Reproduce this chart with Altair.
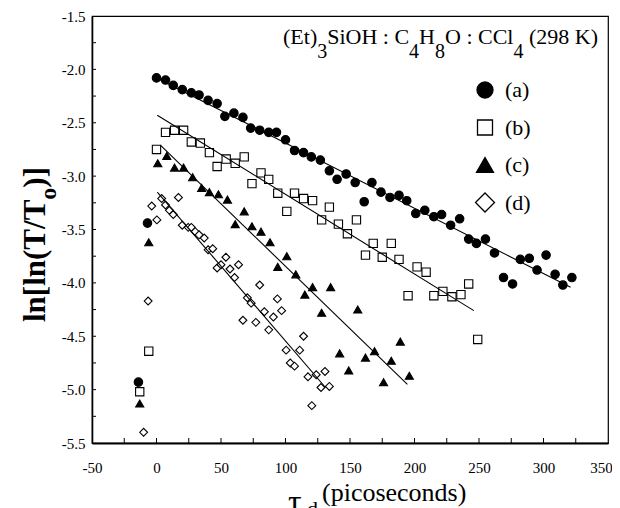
import altair as alt
import pandas as pd

# ---------------- data ----------------
a_x = [-14, -7, 0, 7, 13, 20, 27, 33, 40, 47, 53, 60, 67, 73, 80, 87, 93, 100, 107, 114,
       120, 127, 134, 140, 147, 154, 161, 167, 174, 181, 188, 194, 201, 208, 215, 221, 228,
       235, 242, 248, 255, 262, 269, 276, 282, 289, 295, 302, 309, 315, 322]
a_y = [-4.93, -3.44, -2.08, -2.10, -2.15, -2.19, -2.22, -2.24, -2.29, -2.32, -2.44, -2.41,
       -2.45, -2.55, -2.57, -2.59, -2.59, -2.66, -2.76, -2.78, -2.82, -2.85, -2.95, -3.03,
       -2.98, -3.06, -3.24, -3.06, -3.15, -3.20, -3.18, -3.23, -3.35, -3.32, -3.38, -3.36,
       -3.46, -3.40, -3.59, -3.63, -3.59, -3.72, -3.95, -4.01, -3.78, -3.77, -3.88, -3.74,
       -3.92, -4.02, -3.95]

b_x = [-13, -6, 0, 7, 14, 21, 27, 34, 41, 47, 54, 61, 68, 74, 81, 87, 94, 101, 107, 114,
       121, 128, 134, 141, 148, 155, 162, 168, 175, 182, 188, 195, 202, 209, 215, 222, 229,
       236, 242, 249]
b_y = [-5.02, -4.64, -2.75, -2.59, -2.57, -2.57, -2.68, -2.69, -2.78, -2.91, -2.84, -2.88,
       -2.82, -3.07, -2.97, -3.03, -3.16, -3.33, -3.16, -3.21, -3.23, -3.41, -3.29, -3.45,
       -3.54, -3.41, -3.74, -3.63, -3.76, -3.63, -3.78, -4.12, -3.85, -3.90, -4.12, -4.08,
       -4.13, -4.11, -4.01, -4.53]

c_x = [-13, -6, 1, 8, 14, 21, 28, 35, 41, 48, 55, 61, 68, 74, 81, 88, 94, 101, 108, 115,
       121, 128, 135, 142, 149, 156, 162, 169, 176, 182, 189, 196]
c_y = [-5.13, -3.62, -2.88, -2.81, -2.92, -2.92, -3.01, -3.11, -3.15, -3.17, -3.22, -3.45,
       -3.33, -3.47, -3.52, -3.62, -3.85, -3.75, -3.92, -4.11, -4.04, -4.28, -4.04, -4.66,
       -4.82, -4.25, -4.70, -4.64, -4.93, -4.73, -4.55, -4.87]

d_x = [-10, -6.5, -3.7, 0.3, 4, 7, 10, 13, 17, 20, 24.6, 27, 30, 33, 37, 40, 43.6, 47, 50,
       53.8, 57, 60.5, 63.6, 67, 70.4, 73.4, 77, 80, 83.6, 87, 90.6, 93.7, 97, 100.5, 103.7,
       107, 111, 114, 117.4, 120.4, 123.8, 127.5, 130.6, 134]
d_y = [-5.40, -4.17, -3.28, -3.41, -3.21, -3.27, -3.32, -3.36, -3.20, -3.46, -3.48, -3.48,
       -3.52, -3.55, -3.58, -3.69, -3.68, -3.86, -3.83, -3.76, -3.87, -3.95, -3.83, -4.35,
       -4.14, -4.19, -4.37, -4.02, -4.27, -4.44, -4.32, -4.15, -4.26, -4.63, -4.75, -4.78,
       -4.63, -4.50, -4.88, -5.15, -4.86, -4.98, -4.83, -4.97]

series = ["(a)", "(b)", "(c)", "(d)"]
shapes = ["circle", "square", "triangle-up", "diamond"]
fills = ["black", "white", "black", "white"]

fit_x0 = [0, 0.6, 3, 0.6]
fit_y0 = [-2.08, -2.43, -2.71, -3.15]
fit_x1 = [321, 246, 194.5, 131]
fit_y1 = [-4.04, -4.26, -4.95, -4.98]

x_labels = [-50, 0, 50, 100, 150, 200, 250, 300, 350]
y_labels = [-5.5, -5.0, -4.5, -4.0, -3.5, -3.0, -2.5, -2.0, -1.5]
x_minor = [-25, 0, 25, 50, 75, 100, 125, 150, 175, 200, 225, 250, 275, 300, 325]
y_minor = [-5.25, -5.0, -4.75, -4.5, -4.25, -4.0, -3.75, -3.5, -3.25, -3.0, -2.75,
           -2.5, -2.25, -2.0, -1.75]

# ---------------- tables ----------------
rows = []
for s, xs_, ys_ in zip(series, [a_x, b_x, c_x, d_x], [a_y, b_y, c_y, d_y]):
    for xv, yv in zip(xs_, ys_):
        rows.append({"x": xv, "y": yv, "s": s})
pts = pd.DataFrame(rows)

fit_rows = []
for s, x0, y0, x1, y1 in zip(series, fit_x0, fit_y0, fit_x1, fit_y1):
    fit_rows.append({"x": x0, "y": y0, "s": s})
    fit_rows.append({"x": x1, "y": y1, "s": s})
fits = pd.DataFrame(fit_rows)

W, H = 516, 427
SERIF = "Liberation Serif"

xsc = alt.Scale(domain=[-50, 350], nice=False, zero=False)
ysc = alt.Scale(domain=[-5.5, -1.5], nice=False, zero=False)

xaxis = alt.Axis(values=x_labels, title=None, grid=False, ticks=False, labelFont=SERIF,
                 labelFontSize=15, labelColor="black", labelPadding=17, domainColor="black",
                 domainWidth=2, labelFlush=False, labelOverlap=False, format="d",
                 labelOffset={"condition": {"test": "datum.value == 350", "value": -7},
                              "value": 0})
yaxis = alt.Axis(values=y_labels, title=None, grid=False, ticks=False, labelFont=SERIF,
                 labelFontSize=15, labelColor="black", labelPadding=7, domainColor="black",
                 domainWidth=1.6, format=".1f", labelFlush=False, labelOverlap=False)

X = alt.X("x:Q", scale=xsc, axis=xaxis)
Y = alt.Y("y:Q", scale=ysc, axis=yaxis)

points = alt.Chart(pts).mark_point(filled=True, stroke="black", strokeWidth=1.1, opacity=1).encode(
    x=X, y=Y,
    shape=alt.Shape("s:N", scale=alt.Scale(domain=series, range=shapes), legend=None),
    fill=alt.Fill("s:N", scale=alt.Scale(domain=series, range=fills), legend=None),
    size=alt.Size("s:N", scale=alt.Scale(domain=series, range=[72, 62, 85, 44]), legend=None),
)

lines = alt.Chart(fits).mark_line(color="black", strokeWidth=1.1).encode(
    x=X, y=Y, detail="s:N")

xt = alt.Chart(pd.DataFrame({"x": x_minor})).mark_rule(color="black", strokeWidth=1).encode(
    x=X, y=alt.value(H), y2=alt.value(H - 5))
yt = alt.Chart(pd.DataFrame({"y": y_minor})).mark_rule(color="black", strokeWidth=1).encode(
    y=Y, x=alt.value(0), x2=alt.value(4))

# ---------------- legend (drawn in the plot, top right) ----------------
legend_sizes = [256, 225, 289, 361]
legend_layers = []
for i, (lab, shp, fil, sz) in enumerate(zip(series, shapes, fills, legend_sizes)):
    cy = 74 + i * 37.5
    legend_layers.append(
        alt.Chart(pd.DataFrame({"t": [lab]})).mark_point(
            shape=shp, size=sz, filled=True, fill=fil, stroke="black", strokeWidth=1.3,
            opacity=1).encode(x=alt.value(393), y=alt.value(cy)))
    legend_layers.append(
        alt.Chart(pd.DataFrame({"t": [lab]})).mark_text(
            align="left", baseline="alphabetic", font=SERIF, fontSize=22, color="black").encode(
            x=alt.value(413), y=alt.value(cy + 7), text="t:N"))

# ---------------- text (title with subscripts) ----------------
TW = {'(': 333, ')': 333, 'E': 611, 't': 278, 'S': 556, 'i': 278, 'O': 722, 'H': 722,
      ' ': 250, ':': 278, 'C': 667, 'l': 278, '2': 500, '9': 500, '8': 500, 'K': 722,
      '3': 500, '4': 500}
TWB = {'l': 278, 'n': 556, '[': 333, '(': 333, 'T': 667, '/': 278, 'o': 500, ')': 333,
       ']': 333}


def width(s, size, table):
    return sum(table[ch] for ch in s) * size / 1000.0


def text_layer(txt, px, py, size, weight="normal", angle=0):
    return alt.Chart(pd.DataFrame({"t": [txt]})).mark_text(
        align="left", baseline="alphabetic", font=SERIF, fontSize=size,
        fontWeight=weight, angle=angle, color="black").encode(
        x=alt.value(px), y=alt.value(py), text="t:N")


title_pieces = [("(Et)", 0), ("3", 1), ("SiOH : C", 0), ("4", 1), ("H", 0), ("8", 1),
                ("O : CCl", 0), ("4", 1), (" (298 K)", 0)]
MAIN, SUB = 22, 20
cx = 191
texts = []
for txt, sub in title_pieces:
    size = SUB if sub else MAIN
    lead = 0
    if txt.startswith(" "):
        lead = width(" ", size, TW)
    texts.append(text_layer(txt.strip(), cx + lead, 42 if sub else 28, size))
    cx += width(txt, size, TW)

# y-axis title: ln[ln(T/T_o)] rotated
yb = 306
w1 = width("ln[ln(T/T", 31, TWB)
w2 = width("o", 24, TWB)
texts.append(text_layer("ln[ln(T/T", -47, yb, 31, "bold", 270))
texts.append(text_layer("o", -36, yb - w1, 24, "bold", 270))
texts.append(text_layer(")]", -47, yb - w1 - w2, 31, "bold", 270))

# x-axis title: tau_d (picoseconds)
texts.append(text_layer("\u03c4", 196, 497, 34))
texts.append(text_layer("d", 215, 500, 22))
texts.append(text_layer("(picoseconds)", 230, 485, 26))

chart = alt.layer(points, lines, xt, yt, *legend_layers, *texts).properties(
    width=W, height=H,
    padding={"left": 84, "top": 8, "right": 4, "bottom": 65},
    autosize=alt.AutoSizeParams(type="none"),
).configure_view(
    stroke="black", strokeWidth=1.2
).configure_axis(
    labelFont=SERIF, labelFontSize=15, labelColor="black",
    labelExpr="replace(datum.label, '\u2212', '-')"
)

chart.save("out.html", embed_options={"renderer": "svg", "actions": False})
